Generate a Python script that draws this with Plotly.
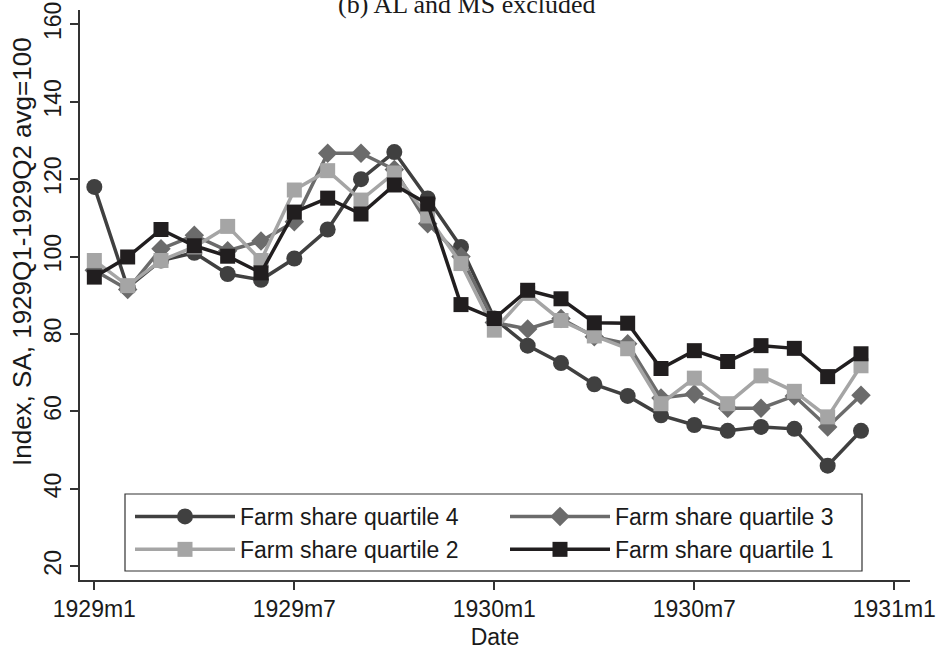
import plotly.graph_objects as go

# Monthly observations, 1929m1 .. 1930m12
months = [f"{y}m{m}" for y in (1929, 1930) for m in range(1, 13)]

# Axis tick labels
x_tick_pos = [0, 6, 12, 18, 24]
x_tick_text = ["1929m1", "1929m7", "1930m1", "1930m7", "1931m1"]
y_ticks = [20, 40, 60, 80, 100, 120, 140, 160]

# Index values (SA, 1929Q1-1929Q2 avg = 100) by farm-share quartile
q4 = [118, 92, 99, 101, 95.5, 94, 99.5, 107, 120, 127, 115, 102.5,
      84, 77, 72.5, 67, 64, 59, 56.5, 55, 56, 55.5, 46, 55]
q3 = [96.5, 91.5, 102, 105.5, 101.5, 104, 109, 126.7, 126.7, 122.5, 108.5, 100,
      83, 81.3, 84, 79.3, 77.5, 63.5, 64.5, 60.8, 60.8, 64, 56, 64.2]
q2 = [99, 92.5, 99, 102.5, 107.8, 99, 117.2, 122.2, 114.6, 121.6, 110.5, 98.2,
      81, 90.5, 83.5, 79.5, 76.2, 62, 68.6, 62, 69.2, 65.2, 58.6, 71.8]
q1 = [94.7, 99.9, 107, 102.8, 100.1, 95.8, 111.5, 115.1, 111, 118.5, 113.6, 87.6,
      84, 91.3, 89.1, 82.9, 82.8, 71.1, 75.7, 72.9, 77, 76.3, 69, 74.9]

# (label, values, colour, marker symbol, marker size, legend column)
series = [
    ("Farm share quartile 4", q4, "#404040", "circle", 16, "legend"),
    ("Farm share quartile 3", q3, "#6b6b6b", "diamond", 15, "legend2"),
    ("Farm share quartile 2", q2, "#a5a5a5", "square", 15, "legend"),
    ("Farm share quartile 1", q1, "#211e1f", "square", 15, "legend2"),
]

x_idx = list(range(len(months)))

fig = go.Figure()
for name, vals, color, symbol, size, leg in series:
    fig.add_trace(go.Scatter(
        x=x_idx, y=vals, name=name, mode="lines+markers",
        customdata=months, legend=leg,
        line=dict(color=color, width=3.5),
        marker=dict(symbol=symbol, size=size, color=color, line=dict(width=0)),
        hovertemplate="%{customdata}: %{y}<extra>" + name + "</extra>",
    ))

axis_color = "#333333"
text_color = "#1a1a1a"
font_main = "Liberation Sans, Arial, Helvetica, sans-serif"

# Plot area geometry in pixels (used to place paper-referenced items)
W, H = 937, 650
ML, MR, MT, MB = 80, 27, 10, 70
PW, PH = W - ML - MR, H - MT - MB


def px_x(px):
    return (px - ML) / PW


def px_y(py):
    return (H - MB - py) / PH


legend_common = dict(
    orientation="v", xanchor="left", yanchor="top",
    borderwidth=0, bgcolor="rgba(0,0,0,0)",
    font=dict(size=23, color=text_color),
    itemwidth=100, traceorder="normal", tracegroupgap=0,
)

fig.update_layout(
    width=W, height=H,
    margin=dict(l=ML, r=MR, t=MT, b=MB, autoexpand=False),
    paper_bgcolor="white", plot_bgcolor="white",
    font=dict(family=font_main, size=23, color=text_color),
    showlegend=True,
    legend=dict(x=px_x(130), y=px_y(495), **legend_common),
    legend2=dict(x=px_x(505), y=px_y(495), **legend_common),
    xaxis=dict(
        range=[-0.43, 24.47],
        tickmode="array", tickvals=x_tick_pos, ticktext=x_tick_text,
        showgrid=False, zeroline=False,
        showline=True, linecolor=axis_color, linewidth=1.5,
        ticks="outside", ticklen=8, tickwidth=1.5, tickcolor=axis_color,
        tickfont=dict(size=23),
        title=dict(text="Date", font=dict(size=23), standoff=9),
    ),
    yaxis=dict(
        range=[16.46, 163.7],
        tickmode="array", tickvals=y_ticks,
        tickangle=-90,
        showgrid=False, zeroline=False,
        showline=True, linecolor=axis_color, linewidth=1.5,
        ticks="outside", ticklen=8, tickwidth=1.5, tickcolor=axis_color,
        tickfont=dict(size=23),
    ),
    shapes=[dict(
        type="rect", xref="paper", yref="paper",
        x0=px_x(125), x1=px_x(862), y0=px_y(571), y1=px_y(494),
        line=dict(color=axis_color, width=1.2), fillcolor="white", layer="above",
    )],
    annotations=[
        dict(
            text="(b) AL and MS excluded",
            xref="paper", yref="paper", x=px_x(467), y=0.9815,
            xanchor="center", yanchor="bottom", showarrow=False,
            font=dict(family="Liberation Serif, Times New Roman, serif", size=26, color=text_color),
        ),
        dict(
            text="Index, SA, 1929Q1-1929Q2 avg=100",
            xref="paper", yref="paper", x=px_x(22), y=px_y(252),
            xanchor="center", yanchor="middle", textangle=-90, showarrow=False,
            font=dict(size=26, color=text_color),
        ),
    ],
)

fig.write_html("out.html")
